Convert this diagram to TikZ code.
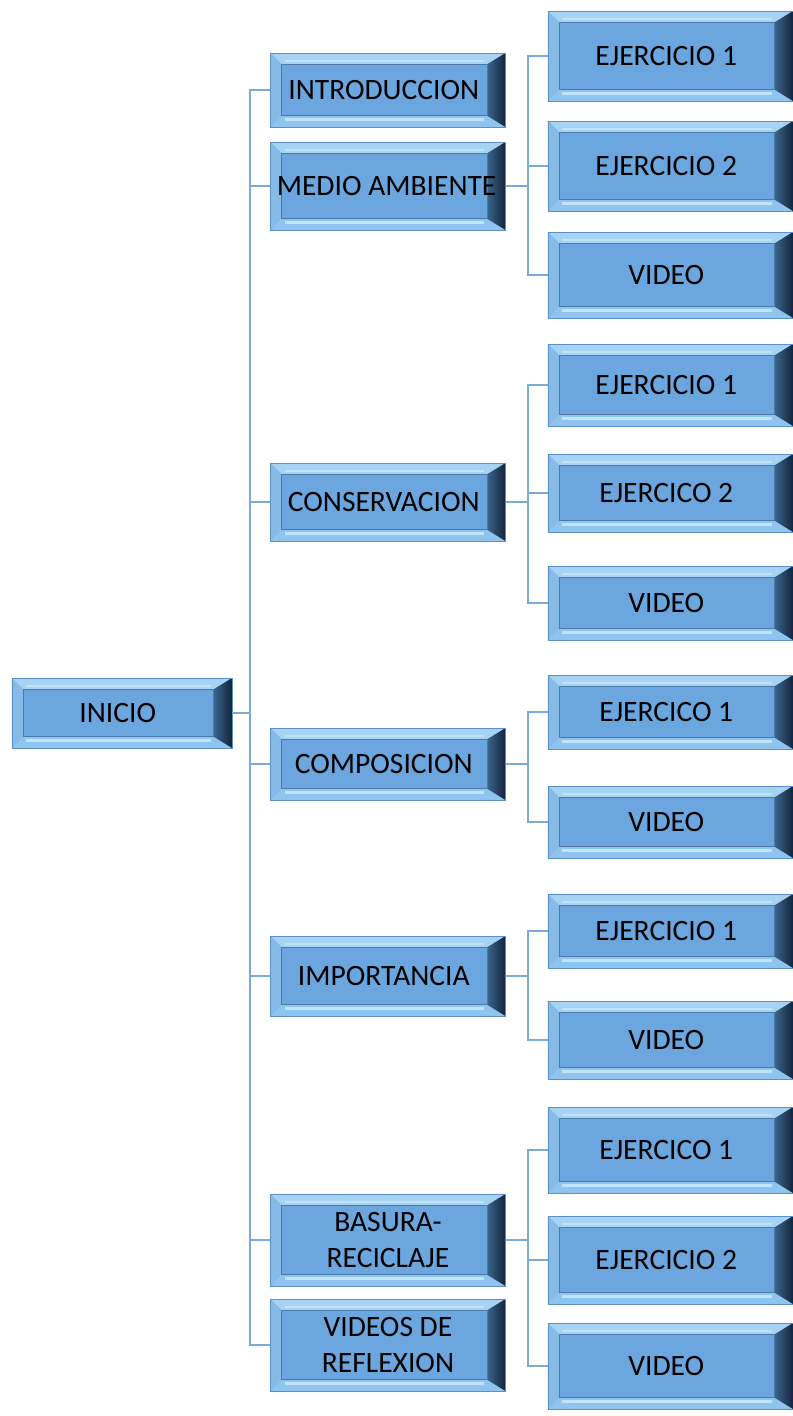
\documentclass[tikz,border=0pt]{standalone}
\usepackage{fontspec}
\setmainfont{Carlito}
\usetikzlibrary{calc}
\definecolor{face}{HTML}{6BA7DE}
\definecolor{bvtop}{HTML}{A6D2F4}
\definecolor{bvleft}{HTML}{86BBE8}
\definecolor{bvbot}{HTML}{8EC4EE}
\definecolor{bvhi}{HTML}{C2E4FA}
\definecolor{bvrA}{HTML}{3A648C}
\definecolor{bvrB}{HTML}{13233A}
\definecolor{edge}{HTML}{5A90C6}
\definecolor{conn}{HTML}{7BA9D8}
\newcommand\bvw{8pt}
\newcommand\bvr{13pt}
\tikzset{
  bevbox/.style={draw=edge, line width=0.5pt, fill=face, inner sep=0pt, align=center,
    font=\fontsize{21}{25}\selectfont, text=black,
    path picture={
      \coordinate (pnw) at (path picture bounding box.north west);
      \coordinate (pne) at (path picture bounding box.north east);
      \coordinate (psw) at (path picture bounding box.south west);
      \coordinate (pse) at (path picture bounding box.south east);
      \fill[bvtop] (pnw) -- (pne) -- ([shift={(-\bvr,-\bvw)}]pne) -- ([shift={(\bvw,-\bvw)}]pnw) -- cycle;
      \fill[bvleft] (pnw) -- (psw) -- ([shift={(\bvw,\bvw)}]psw) -- ([shift={(\bvw,-\bvw)}]pnw) -- cycle;
      \fill[bvbot] (psw) -- (pse) -- ([shift={(-\bvr,\bvw)}]pse) -- ([shift={(\bvw,\bvw)}]psw) -- cycle;
      \draw[bvhi, line width=1.8pt] ([shift={(\bvw+2pt,\bvw-2.8pt)}]psw) -- ([shift={(-\bvr-2pt,\bvw-2.8pt)}]pse);
      \draw[bvhi, line width=1.2pt] ([shift={(\bvw+2pt,-\bvw+2.2pt)}]pnw) -- ([shift={(-\bvr-2pt,-\bvw+2.2pt)}]pne);
      \shade[left color=bvrA, right color=bvrB] (pne) -- (pse) -- ([shift={(-\bvr,\bvw)}]pse) -- ([shift={(-\bvr,-\bvw)}]pne) -- cycle;
      \draw[edge!85!black, line width=0.4pt] ([shift={(\bvw,-\bvw)}]pnw) rectangle ([shift={(-\bvr,\bvw)}]pse);
    }},
  bh/.style={minimum height=#1*0.025cm},
  lvone/.style={bevbox, minimum width=5.5cm},
  lvtwo/.style={bevbox, minimum width=5.875cm},
  lvthree/.style={bevbox, minimum width=6.125cm},
  conn/.style={draw=conn, line width=1.2pt},
}
\begin{document}
\begin{tikzpicture}[x=0.025cm, y=-0.025cm]
\useasboundingbox (0,0) rectangle (793,1416);
% level 1
\node[lvone, bh=70] (inicio) at (122,713) {INICIO\hspace{6pt}};
% level 2
\node[lvtwo, bh=74] (intro) at (388,90) {INTRODUCCION\hspace{6pt}};
\node[lvtwo, bh=88] (medio) at (388,186) {MEDIO AMBIENTE\hspace{2pt}};
\node[lvtwo, bh=78] (cons) at (388,502) {CONSERVACION\hspace{6pt}};
\node[lvtwo, bh=72] (comp) at (388,764) {COMPOSICION\hspace{6pt}};
\node[lvtwo, bh=80] (imp) at (388,976) {IMPORTANCIA\hspace{6pt}};
\node[lvtwo, bh=92] (bas) at (388,1240) {BASURA-\\RECICLAJE};
\node[lvtwo, bh=92] (vref) at (388,1345) {VIDEOS DE\\REFLEXION};
% level 3
\node[lvthree, bh=90] (a1) at (670.5,56) {EJERCICIO 1\hspace{6pt}};
\node[lvthree, bh=90] (a2) at (670.5,166) {EJERCICIO 2\hspace{6pt}};
\node[lvthree, bh=86] (a3) at (670.5,275) {VIDEO\hspace{6pt}};
\node[lvthree, bh=82] (b1) at (670.5,385) {EJERCICIO 1\hspace{6pt}};
\node[lvthree, bh=78] (b2) at (670.5,493) {EJERCICO 2\hspace{6pt}};
\node[lvthree, bh=74] (b3) at (670.5,603) {VIDEO\hspace{6pt}};
\node[lvthree, bh=74] (c1) at (670.5,712) {EJERCICO 1\hspace{6pt}};
\node[lvthree, bh=72] (c2) at (670.5,822) {VIDEO\hspace{6pt}};
\node[lvthree, bh=74] (d1) at (670.5,931) {EJERCICIO 1\hspace{6pt}};
\node[lvthree, bh=78] (d2) at (670.5,1040) {VIDEO\hspace{6pt}};
\node[lvthree, bh=86] (e1) at (670.5,1150) {EJERCICO 1\hspace{6pt}};
\node[lvthree, bh=88] (e2) at (670.5,1260) {EJERCICIO 2\hspace{6pt}};
\node[lvthree, bh=86] (e3) at (670.5,1366) {VIDEO\hspace{6pt}};
% main trunk
\coordinate (t) at (250,713);
\draw[conn] (inicio.east) -- (t);
\foreach \n in {intro,medio,cons,comp,imp,bas,vref} \draw[conn] (t) |- (\n.west);
% sub trunks
\path (medio.east) ++(22,0) coordinate (tm);
\draw[conn] (medio.east) -- (tm);
\foreach \n in {a1,a2,a3} \draw[conn] (tm) |- (\n.west);
\path (cons.east) ++(22,0) coordinate (tc);
\draw[conn] (cons.east) -- (tc);
\foreach \n in {b1,b2,b3} \draw[conn] (tc) |- (\n.west);
\path (comp.east) ++(22,0) coordinate (tp);
\draw[conn] (comp.east) -- (tp);
\foreach \n in {c1,c2} \draw[conn] (tp) |- (\n.west);
\path (imp.east) ++(22,0) coordinate (ti);
\draw[conn] (imp.east) -- (ti);
\foreach \n in {d1,d2} \draw[conn] (ti) |- (\n.west);
\path (bas.east) ++(22,0) coordinate (tb);
\draw[conn] (bas.east) -- (tb);
\foreach \n in {e1,e2,e3} \draw[conn] (tb) |- (\n.west);
\end{tikzpicture}
\end{document}
